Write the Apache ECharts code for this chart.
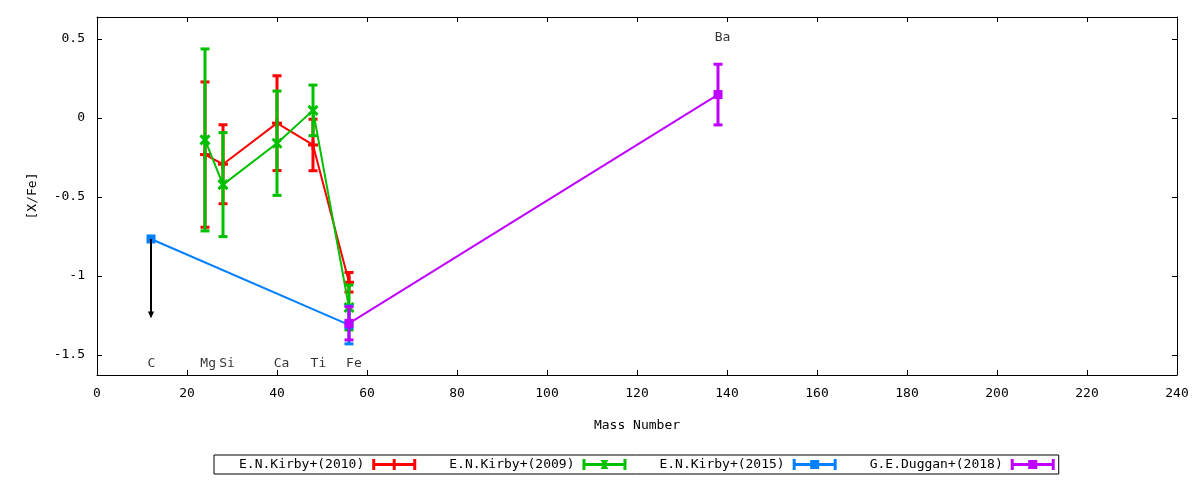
<!DOCTYPE html>
<html>
<head>
<meta charset="utf-8">
<script src="https://cdn.jsdelivr.net/npm/echarts@6/dist/echarts.min.js"></script>
<style>
html,body{margin:0;padding:0;background:#fff;}
#chart{width:1200px;height:480px;}
</style>
</head>
<body>
<div id="chart"></div>
<script>
// ---- data ----
const kirby2010Mass = [24, 28, 40, 48, 56];
const kirby2010Val  = [-0.232, -0.293, -0.033, -0.171, -1.04];
const kirby2010Err  = [0.46, 0.25, 0.30, 0.163, 0.062];

const kirby2009Mass = [24, 28, 40, 48, 56];
const kirby2009Val  = [-0.139, -0.422, -0.16, 0.048, -1.20];
const kirby2009Err  = [0.576, 0.329, 0.33, 0.16, 0.142];

const kirby2015Mass = [12, 56];
const kirby2015Val  = [-0.766, -1.31];
const kirby2015Err  = [0, 0.12];

const duggan2018Mass = [56, 138];
const duggan2018Val  = [-1.30, 0.148];
const duggan2018Err  = [0.105, 0.192];

// upper-limit arrow for C
const arrowX = [12];
const arrowFrom = [-0.766];
const arrowTo = [-1.27];

const elementNames = ['C', 'Mg', 'Si', 'Ca', 'Ti', 'Fe', 'Ba'];
const elementLabelX = [12.1, 24.7, 28.9, 41, 49.2, 57.1, 139];
const elementLabelY = [-1.555, -1.555, -1.555, -1.555, -1.555, -1.555, 0.507];

const xTicks = [0, 20, 40, 60, 80, 100, 120, 140, 160, 180, 200, 220, 240];
const yTicks = [-1.5, -1, -0.5, 0, 0.5];

const seriesNames = ['E.N.Kirby+(2010)', 'E.N.Kirby+(2009)', 'E.N.Kirby+(2015)', 'G.E.Duggan+(2018)'];
const seriesColors = ['#ff0000', '#00c000', '#0080ff', '#c000ff'];

// ---- helpers ----
const FONT = 'DejaVu Sans Mono';
function zip(m, v, e) { return m.map((x, i) => [x, v[i], e[i]]); }

function errRender(color, marker) {
  return function (params, api) {
    const x = api.value(0), y = api.value(1), e = api.value(2);
    const c = api.coord([x, y]);
    const children = [];
    const st = { stroke: color, lineWidth: 3, fill: null };
    const capW = 4.5;
    if (e > 0) {
      const hi = api.coord([x, y + e]);
      const lo = api.coord([x, y - e]);
      children.push({ type: 'line', shape: { x1: c[0], y1: hi[1], x2: c[0], y2: lo[1] }, style: st });
      children.push({ type: 'line', shape: { x1: c[0] - capW, y1: hi[1], x2: c[0] + capW, y2: hi[1] }, style: st });
      children.push({ type: 'line', shape: { x1: c[0] - capW, y1: lo[1], x2: c[0] + capW, y2: lo[1] }, style: st });
    }
    if (marker === 'plus') {
      children.push({ type: 'line', shape: { x1: c[0] - 5, y1: c[1], x2: c[0] + 5, y2: c[1] }, style: st });
      children.push({ type: 'line', shape: { x1: c[0], y1: c[1] - 5, x2: c[0], y2: c[1] + 5 }, style: st });
    } else if (marker === 'cross') {
      children.push({ type: 'line', shape: { x1: c[0] - 4.5, y1: c[1] - 4.5, x2: c[0] + 4.5, y2: c[1] + 4.5 }, style: st });
      children.push({ type: 'line', shape: { x1: c[0] - 4.5, y1: c[1] + 4.5, x2: c[0] + 4.5, y2: c[1] - 4.5 }, style: st });
    } else {
      children.push({ type: 'rect', shape: { x: c[0] - 4.5, y: c[1] - 4.5, width: 9, height: 9 }, style: { fill: color } });
    }
    return { type: 'group', children: children };
  };
}

const datasets = [
  { m: kirby2010Mass, v: kirby2010Val, e: kirby2010Err, marker: 'plus' },
  { m: kirby2009Mass, v: kirby2009Val, e: kirby2009Err, marker: 'cross' },
  { m: kirby2015Mass, v: kirby2015Val, e: kirby2015Err, marker: 'square' },
  { m: duggan2018Mass, v: duggan2018Val, e: duggan2018Err, marker: 'square' }
];

const series = [];
datasets.forEach((d, i) => {
  const color = seriesColors[i];
  series.push({
    name: seriesNames[i], type: 'line', z: 2 + i,
    data: d.m.map((x, k) => [x, d.v[k]]),
    symbol: 'none', lineStyle: { color: color, width: 2 }, itemStyle: { color: color },
    silent: true
  });
  series.push({
    name: seriesNames[i], type: 'custom', z: 2 + i,
    data: zip(d.m, d.v, d.e),
    renderItem: errRender(color, d.marker),
    itemStyle: { color: color }, silent: true
  });
});

// arrow (upper limit)
series.push({
  name: 'limit', type: 'custom', z: 10, silent: true,
  data: arrowX.map((x, i) => [x, arrowFrom[i], arrowTo[i]]),
  renderItem: function (params, api) {
    const a = api.coord([api.value(0), api.value(1)]);
    const b = api.coord([api.value(0), api.value(2)]);
    return {
      type: 'group', children: [
        { type: 'line', shape: { x1: a[0], y1: a[1], x2: b[0], y2: b[1] - 4 }, style: { stroke: '#000', lineWidth: 2 } },
        { type: 'polygon', shape: { points: [[b[0] - 3, b[1] - 7], [b[0] + 3, b[1] - 7], [b[0], b[1]]] }, style: { fill: '#000' } }
      ]
    };
  }
});

// element labels
series.push({
  name: 'labels', type: 'scatter', z: 11, silent: true,
  symbolSize: 0,
  data: elementNames.map((n, i) => ({ name: n, value: [elementLabelX[i], elementLabelY[i]] })),
  label: {
    show: true, position: 'inside', formatter: p => p.name,
    color: '#000', fontFamily: FONT, fontSize: 13
  }
});

const legendIcons = [
  'path://M0,4L44,4L44,7L0,7Z M0,0L3,0L3,11L0,11Z M41,0L44,0L44,11L41,11Z M20.5,0L23.5,0L23.5,11L20.5,11Z M17,4L27,4L27,7L17,7Z',
  'path://M0,4L44,4L44,7L0,7Z M0,0L3,0L3,11L0,11Z M41,0L44,0L44,11L41,11Z M18,1L26,1L23,5.5L26,10L18,10L21,5.5Z',
  'path://M0,4L44,4L44,7L0,7Z M0,0L3,0L3,11L0,11Z M41,0L44,0L44,11L41,11Z M17.5,1L26.5,1L26.5,10L17.5,10Z',
  'path://M0,4L44,4L44,7L0,7Z M0,0L3,0L3,11L0,11Z M41,0L44,0L44,11L41,11Z M17.5,1L26.5,1L26.5,10L17.5,10Z'
];

const axisLineStyle = { color: '#000', width: 1 };
const chart = echarts.init(document.getElementById('chart'), null, { renderer: 'canvas' });
chart.setOption({
  animation: false,
  backgroundColor: '#fff',
  textStyle: { fontFamily: FONT },
  grid: { left: 97, right: 23, top: 17, bottom: 105, containLabel: false },
  legend: {
    left: 214, top: 455,
    data: seriesNames.map((n, i) => ({ name: n, icon: legendIcons[i] })),
    itemWidth: 44, itemHeight: 11, itemGap: 33, align: 'right',
    padding: [3, 4, 3, 25],
    borderColor: '#000', borderWidth: 1,
    selectedMode: false,
    textStyle: { fontFamily: FONT, fontSize: 13, color: '#000', padding: [0, 3, 0, 0] }
  },
  xAxis: [
    {
      type: 'value', min: xTicks[0], max: xTicks[xTicks.length - 1], interval: 20,
      name: 'Mass Number', nameLocation: 'middle', nameGap: 44,
      nameTextStyle: { fontFamily: FONT, fontSize: 13, color: '#000' },
      axisLine: { show: true, onZero: false, lineStyle: axisLineStyle },
      axisTick: { show: true, inside: true, length: 5, lineStyle: axisLineStyle },
      axisLabel: { fontFamily: FONT, fontSize: 13, color: '#000', margin: 12 },
      splitLine: { show: false }
    },
    {
      type: 'value', position: 'top', min: xTicks[0], max: xTicks[xTicks.length - 1], interval: 20,
      axisLine: { show: true, onZero: false, lineStyle: axisLineStyle },
      axisTick: { show: true, inside: true, length: 5, lineStyle: axisLineStyle },
      axisLabel: { show: false }, splitLine: { show: false }
    }
  ],
  yAxis: [
    {
      type: 'value', min: -1.627, max: 0.639,
      name: '[X/Fe]', nameLocation: 'middle', nameGap: 58, nameRotate: 90,
      nameTextStyle: { fontFamily: FONT, fontSize: 13, color: '#000' },
      axisLine: { show: true, onZero: false, lineStyle: axisLineStyle },
      axisTick: { show: true, inside: true, length: 5, customValues: yTicks, lineStyle: axisLineStyle },
      axisLabel: { fontFamily: FONT, fontSize: 13, color: '#000', margin: 12, customValues: yTicks, formatter: v => String(v) },
      splitLine: { show: false }
    },
    {
      type: 'value', position: 'right', min: -1.627, max: 0.639,
      axisLine: { show: true, onZero: false, lineStyle: axisLineStyle },
      axisTick: { show: true, inside: true, length: 5, customValues: yTicks, lineStyle: axisLineStyle },
      axisLabel: { show: false }, splitLine: { show: false }
    }
  ],
  series: series
});
</script>
</body>
</html>
